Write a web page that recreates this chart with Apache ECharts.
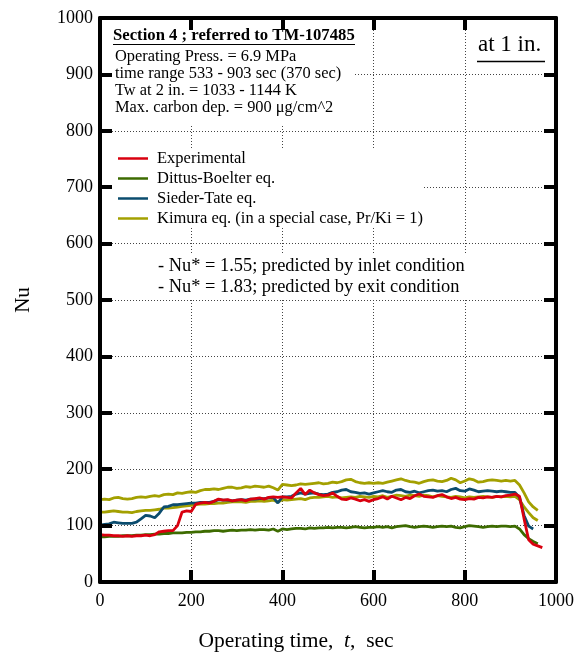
<!DOCTYPE html>
<html>
<head>
<meta charset="utf-8">
<script src="https://cdn.jsdelivr.net/npm/echarts@6/dist/echarts.min.js"></script>
<style>
html, body { margin: 0; padding: 0; background: #fff; }
#chart { width: 579px; height: 657px; }
</style>
</head>
<body>
<div id="chart"></div>
<script>
var serif = '"Liberation Serif", "Times New Roman", serif';

// operating time, sec
var times = [0,10,20,30,40,50,60,70,80,90,
  100,110,120,130,140,150,160,170,180,190,
  200,210,220,230,240,250,260,270,280,290,
  300,310,320,330,340,350,360,370,380,390,
  400,410,420,430,440,450,460,470,480,490,
  500,510,520,530,540,550,560,570,580,590,
  600,610,620,630,640,650,660,670,680,690,
  700,710,720,730,740,750,760,770,780,790,
  800,810,820,830,840,850,860,870,880,890,
  900,910,920,930,940,950,960,970];

var experimental = [84,83,83,82,82,81,82,81,82,82,
  83,82,84,89,90,91,91,100,124,126,
  125,138,140,141,140,143,147,145,146,144,
  145,146,144,147,148,149,147,150,151,150,
  151,150,149,158,166,155,163,158,155,153,
  154,158,152,147,146,149,147,144,146,143,
  146,148,151,147,152,149,146,150,148,153,
  156,152,151,150,153,155,151,148,150,147,
  146,148,147,150,149,151,150,152,151,153,
  154,156,152,112,75,67,64,61];

var dittusBoelter = [80,80,81,81,81,82,82,82,83,83,
  84,84,85,85,86,86,87,87,87,88,
  88,89,89,90,90,91,91,90,91,92,
  91,92,92,93,92,93,93,92,94,90,
  94,93,94,95,95,94,96,95,96,96,
  97,96,97,97,96,97,98,97,96,97,
  97,98,97,98,96,98,99,100,98,97,
  98,99,98,97,98,99,98,99,97,96,
  98,100,99,98,97,98,99,98,99,99,
  98,99,94,84,77,72,68,null];

var siederTate = [101,102,103,106,105,104,104,104,106,112,
  118,117,114,122,133,134,137,137,138,139,
  140,140,141,141,141,143,146,145,145,144,
  145,146,145,147,147,148,148,149,150,140,
  151,151,152,156,158,156,157,158,156,155,
  156,159,160,163,164,160,159,157,158,156,
  158,160,162,160,159,163,164,160,159,161,
  158,160,162,163,161,162,160,164,166,162,
  161,165,163,160,161,162,161,160,161,160,
  159,159,150,118,99,94,null,null];

var kimuraInlet = [146,147,146,149,150,148,147,148,150,151,
  150,152,153,152,155,156,155,158,157,159,
  160,159,162,164,164,165,164,166,168,168,
  166,167,169,168,170,169,168,170,167,163,
  173,172,171,172,174,173,174,175,176,174,
  175,177,176,178,181,182,178,176,175,176,
  175,176,175,177,179,181,183,180,178,177,
  175,178,180,181,179,178,180,184,181,176,
  179,183,181,177,178,180,181,180,179,180,
  179,180,172,158,142,133,127,null];

var kimuraExit = [124,124,125,126,125,124,124,123,125,126,
  127,127,128,129,131,131,132,133,134,135,
  136,137,138,138,139,139,140,140,141,142,
  142,142,141,143,143,144,143,144,145,142,
  146,145,146,147,148,146,149,150,150,151,
  152,150,151,149,150,151,150,152,151,150,
  152,151,153,150,152,154,153,152,154,153,
  152,154,153,151,153,152,151,150,152,151,
  149,151,150,151,152,151,150,152,151,152,
  151,152,146,133,123,114,109,null];

var legendNames = ['Experimental', 'Dittus-Boelter eq.', 'Sieder-Tate eq.',
  'Kimura eq. (in a special case, Pr/Ki = 1)'];

var infoLines = ['Operating Press. = 6.9 MPa', 'time range 533 - 903 sec (370 sec)',
  'Tw at 2 in. = 1033 - 1144 K', 'Max. carbon dep. = 900 \u03bcg/cm^2'];

var nuLines = ['- Nu* = 1.55; predicted by inlet condition',
  '- Nu* = 1.83; predicted by exit condition'];

function pairs(vals) {
  return times.map(function (t, i) { return [t, vals[i]]; });
}

function mkSeries(name, vals, color) {
  return {
    name: name, type: 'line', data: pairs(vals), xAxisIndex: 0, yAxisIndex: 0,
    symbol: 'none', z: 3, connectNulls: false,
    lineStyle: { color: color, width: 2.8 }, itemStyle: { color: color }
  };
}

var frame = { show: true, onZero: false, lineStyle: { color: '#000', width: 4 } };
var ticks = { show: true, inside: true, length: 12, lineStyle: { color: '#000', width: 4 } };
var dots = { show: true, lineStyle: { color: '#444', width: 1, type: [1, 2] } };
var plain = function (v) { return String(v); };

var graphics = [
  // white boxes behind the text, hiding the grid lines
  { type: 'rect', z: 1, shape: { x: 103, y: 22, width: 252, height: 102 }, style: { fill: '#fff' } },
  { type: 'rect', z: 1, shape: { x: 103, y: 148, width: 320, height: 78 }, style: { fill: '#fff' } },
  { type: 'rect', z: 1, shape: { x: 155, y: 253, width: 315, height: 45 }, style: { fill: '#fff' } },
  { type: 'text', z: 20, style: { text: 'Section 4 ; referred to TM-107485', x: 113, y: 36, font: 'bold 16.7px ' + serif, fill: '#000', textVerticalAlign: 'middle' } },
  { type: 'line', z: 20, shape: { x1: 113, y1: 44.5, x2: 355, y2: 44.5 }, style: { stroke: '#000', lineWidth: 1.2 } },
  { type: 'text', z: 20, style: { text: 'at 1 in.', x: 478, y: 45, font: '23px ' + serif, fill: '#000', textVerticalAlign: 'middle' } },
  { type: 'line', z: 20, shape: { x1: 477, y1: 61.5, x2: 545, y2: 61.5 }, style: { stroke: '#000', lineWidth: 1.5 } }
];
infoLines.forEach(function (s, i) {
  graphics.push({ type: 'text', z: 20, style: { text: s, x: 115, y: 57 + i * 16.8, font: '16.4px ' + serif, fill: '#000', textVerticalAlign: 'middle' } });
});
nuLines.forEach(function (s, i) {
  graphics.push({ type: 'text', z: 20, style: { text: s, x: 158, y: 266.5 + i * 21, font: '18.4px ' + serif, fill: '#000', textVerticalAlign: 'middle' } });
});

var chart = echarts.init(document.getElementById('chart'));
chart.setOption({
  animation: false,
  backgroundColor: '#fff',
  grid: { left: 100, right: 23, top: 18, bottom: 67 },
  legend: {
    data: legendNames, orient: 'vertical', left: 118, top: 148.5, padding: 0,
    icon: 'rect', itemWidth: 30, itemHeight: 2.5, itemGap: 0, z: 20,
    textStyle: { fontFamily: serif, fontSize: 16.5, color: '#000', lineHeight: 20, padding: [0, 0, 0, 4] }
  },
  xAxis: [
    { type: 'value', min: 0, max: 1000, interval: 200, position: 'bottom', z: 10,
      axisLine: frame, axisTick: ticks, splitLine: { show: false },
      axisLabel: { fontFamily: serif, fontSize: 18, color: '#000', margin: 10, formatter: plain },
      name: 'Operating time,  {i|t},  sec', nameLocation: 'middle', nameGap: 48,
      nameTextStyle: { fontFamily: serif, fontSize: 21.5, color: '#000', padding: [0, 64, 0, 0],
        rich: { i: { fontFamily: serif, fontSize: 21.5, fontStyle: 'italic', color: '#000' } } } },
    { type: 'value', min: 0, max: 1000, interval: 200, position: 'top', z: 10,
      axisLine: frame, axisTick: ticks, axisLabel: { show: false }, splitLine: { show: false } },
    { type: 'value', min: 0, max: 1000, interval: 200, position: 'bottom', z: 0,
      axisLine: { show: false }, axisTick: { show: false }, axisLabel: { show: false }, splitLine: dots }
  ],
  yAxis: [
    { type: 'value', min: 0, max: 1000, interval: 100, position: 'left', z: 10,
      axisLine: frame, axisTick: ticks, splitLine: { show: false },
      axisLabel: { fontFamily: serif, fontSize: 18, color: '#000', margin: 7, formatter: plain },
      name: 'Nu', nameLocation: 'middle', nameGap: 66,
      nameTextStyle: { fontFamily: serif, fontSize: 21, color: '#000' } },
    { type: 'value', min: 0, max: 1000, interval: 100, position: 'right', z: 10,
      axisLine: frame, axisTick: ticks, axisLabel: { show: false }, splitLine: { show: false } },
    { type: 'value', min: 0, max: 1000, interval: 100, position: 'left', z: 0,
      axisLine: { show: false }, axisTick: { show: false }, axisLabel: { show: false }, splitLine: dots }
  ],
  graphic: graphics,
  series: [
    mkSeries(legendNames[1], dittusBoelter, '#3d6b00'),
    mkSeries(legendNames[3], kimuraExit, '#a3a000'),
    mkSeries(legendNames[3], kimuraInlet, '#a3a000'),
    mkSeries(legendNames[2], siederTate, '#0b4c6e'),
    mkSeries(legendNames[0], experimental, '#d9000f')
  ]
});
</script>
</body>
</html>
